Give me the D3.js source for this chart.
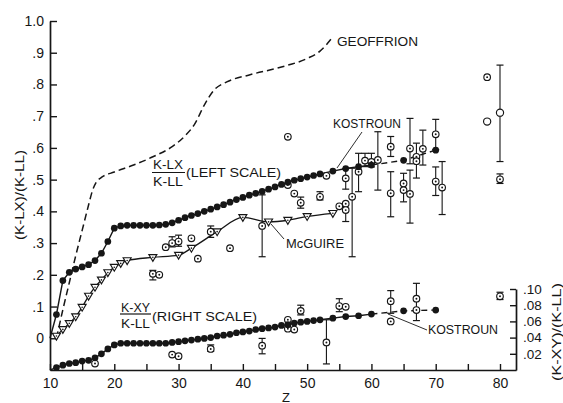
<!DOCTYPE html>
<html><head><meta charset="utf-8">
<script src="https://cdn.jsdelivr.net/npm/d3@7"></script>
<style>html,body{margin:0;padding:0;background:#fff}svg{display:block}</style>
</head><body>
<svg id="chart" width="563" height="403"></svg>
<script>
// ---- Kostroun calculation, K-LX/K-LL (left scale) ----
const kostLXZ = [10, 11, 12, 13, 14, 15, 16, 17, 18, 19, 20, 21, 22, 23, 24, 25, 26, 27, 28, 29, 30,
  31, 32, 33, 34, 35, 36, 37, 38, 39, 40, 41, 42, 43, 44, 45, 46, 47, 48, 49, 50, 51, 52, 54, 56, 58, 60, 65, 70];
const kostLXV = [0.0, 0.075, 0.182, 0.208, 0.218, 0.225, 0.232, 0.245, 0.268, 0.305, 0.347, 0.354, 0.356, 0.356, 0.356, 0.356, 0.356, 0.357, 0.359, 0.364, 0.372,
  0.380, 0.387, 0.393, 0.400, 0.407, 0.414, 0.421, 0.429, 0.437, 0.444, 0.451, 0.457, 0.463, 0.470, 0.477, 0.485, 0.492, 0.498, 0.503, 0.508, 0.513, 0.518, 0.527, 0.535, 0.541, 0.546, 0.561, 0.593];

// ---- Kostroun calculation, K-XY/K-LL (right scale) ----
const kostXYZ = [10, 11, 12, 13, 14, 15, 16, 17, 18, 19, 20, 21, 22, 23, 24, 25, 26, 27, 28, 29, 30,
  31, 32, 33, 34, 35, 36, 37, 38, 39, 40, 41, 42, 43, 44, 45, 46, 47, 48, 49, 50, 51, 52, 54, 56, 58, 60, 65, 70];
const kostXYV = [0.0, 0.003, 0.006, 0.008, 0.009, 0.011, 0.012, 0.015, 0.020, 0.026, 0.031, 0.033, 0.033, 0.033, 0.033, 0.033, 0.033, 0.033, 0.033, 0.034, 0.035,
  0.036, 0.037, 0.038, 0.039, 0.040, 0.042, 0.043, 0.044, 0.046, 0.047, 0.048, 0.050, 0.051, 0.052, 0.053, 0.055, 0.056, 0.058, 0.059, 0.060, 0.061, 0.062, 0.064, 0.066, 0.067, 0.069, 0.073, 0.074];

// ---- McGuire calculation, K-LX/K-LL ----
const mcguireZ = [11, 12, 13, 14, 15, 16, 17, 18, 19, 20, 21, 22, 26, 30, 32, 36, 40, 44, 47, 50, 54];
const mcguireV = [0.007, 0.028, 0.047, 0.068, 0.098, 0.133, 0.161, 0.184, 0.207, 0.224, 0.236, 0.245, 0.255, 0.262, 0.284, 0.336, 0.381, 0.367, 0.372, 0.384, 0.394];

// ---- Geoffrion curve, K-LX/K-LL ----
const geoffrionZ = [11, 12, 13, 14, 15, 16, 16.6, 17.2, 18, 20, 23, 26, 29, 31, 32.5, 34, 35.5, 37.5, 41, 46, 50, 52, 54];
const geoffrionV = [0.0, 0.09, 0.175, 0.26, 0.34, 0.42, 0.465, 0.492, 0.507, 0.524, 0.546, 0.572, 0.604, 0.638, 0.675, 0.735, 0.782, 0.808, 0.83, 0.855, 0.882, 0.905, 0.95];

// ---- Measurements, K-LX/K-LL (left scale); null = no error bar ----
const expLXZ  = [26, 27, 28, 29, 30, 32, 33, 35, 38, 43, 47, 47, 48, 49, 52, 53, 55, 56, 56, 56, 57, 58, 59, 60, 61,
  63, 63, 65, 65, 66, 66, 67, 67, 68, 70, 70, 71, 78, 80];
const expLXV  = [0.203, 0.200, 0.287, 0.300, 0.305, 0.315, 0.251, 0.336, 0.284, 0.354, 0.635, 0.483, 0.456, 0.427, 0.446, 0.512, 0.416, 0.424, 0.404, 0.504, 0.446, 0.525, 0.560, 0.556, 0.562,
  0.604, 0.457, 0.488, 0.467, 0.598, 0.455, 0.572, 0.558, 0.597, 0.643, 0.494, 0.475, 0.823, 0.501];
const expLXLo = [0.184, null, null, 0.288, 0.290, null, null, 0.318, null, 0.257, null, null, null, 0.410, 0.436, null, null, null, 0.368, 0.470, 0.257, 0.462, 0.541, 0.540, 0.467,
  0.573, 0.383, 0.430, null, 0.550, 0.363, 0.505, null, 0.546, 0.595, 0.450, 0.390, null, 0.488];
const expLXHi = [0.214, null, null, 0.320, 0.325, null, null, 0.354, null, 0.452, null, null, null, 0.445, 0.462, null, null, null, 0.410, 0.535, 0.536, 0.583, 0.583, 0.583, 0.651,
  0.636, 0.525, 0.520, null, 0.693, 0.530, 0.615, null, 0.656, 0.690, 0.540, 0.557, null, 0.518];
// rings without a centre dot
const plainLXZ  = [78, 80];
const plainLXV  = [0.683, 0.711];
const plainLXLo = [null, 0.557];
const plainLXHi = [null, 0.861];

// ---- Measurements, K-XY/K-LL (right scale) ----
const expXYZ  = [17, 29, 30, 35, 43, 47, 47, 48, 49, 53, 55, 56, 63, 63, 67, 67, 80];
const expXYV  = [0.008, 0.019, 0.017, 0.026, 0.030, 0.062, 0.051, 0.050, 0.073, 0.034, 0.079, 0.078, 0.085, 0.060, 0.088, 0.074, 0.091];
const expXYLo = [null, null, null, 0.023, 0.020, null, null, null, 0.068, 0.0075, 0.072, null, 0.070, null, null, 0.061, 0.087];
const expXYHi = [null, null, null, 0.031, 0.039, null, null, null, 0.080, 0.062, 0.088, null, 0.098, null, null, 0.107, 0.096];

// ---- Axis ticks ----
const zTicks = [10, 15, 20, 25, 30, 35, 40, 45, 50, 55, 60, 65, 70, 75, 80];
const zTickLabels = ["10", "", "20", "", "30", "", "40", "", "50", "", "60", "", "70", "", "80"];
const leftTicks = [0, 0.1, 0.2, 0.3, 0.4, 0.5, 0.6, 0.7, 0.8, 0.9, 1.0];
const leftTickLabels = ["0", ".1", ".2", ".3", ".4", ".5", ".6", ".7", ".8", ".9", "1.0"];
const rightTicks = [0.02, 0.04, 0.06, 0.08, 0.10];
const rightTickLabels = [".02", ".04", ".06", ".08", ".10"];

const FONT = "'Liberation Sans', Arial, Helvetica, sans-serif";
const INK = "#161616";
const svg = d3.select("#chart");
svg.append("rect").attr("width", 563).attr("height", 403).attr("fill", "#fff");

const x = d3.scaleLinear().domain([10, 82.5]).range([50, 516.07]);
const yL = d3.scaleLinear().domain([-0.1, 1.0]).range([370, 21]);
const yR = d3.scaleLinear().domain([0, 0.1]).range([370, 289]);

function styleAxis(g, size) {
  g.select(".domain").attr("stroke", INK).attr("stroke-width", 1.7);
  g.selectAll(".tick line").attr("stroke", INK).attr("stroke-width", 1.4);
  g.selectAll(".tick text").attr("fill", INK).style("font-family", FONT).style("font-size", size + "px");
}

// axes
svg.append("g").attr("transform", "translate(0,370)")
  .call(d3.axisBottom(x).tickValues(zTicks).tickFormat((d, i) => zTickLabels[i])
    .tickSizeInner(-6).tickSizeOuter(0).tickPadding(8))
  .call(g => styleAxis(g, 14));
svg.append("g").attr("transform", "translate(50,0)")
  .call(d3.axisLeft(yL).tickValues(leftTicks).tickFormat((d, i) => leftTickLabels[i])
    .tickSizeInner(-7).tickSizeOuter(0).tickPadding(6))
  .call(g => styleAxis(g, 14));
svg.append("g").attr("transform", "translate(516,0)")
  .call(d3.axisRight(yR).tickValues(rightTicks).tickFormat((d, i) => rightTickLabels[i])
    .tickSizeInner(-6).tickSizeOuter(0).tickPadding(7))
  .call(g => styleAxis(g, 13.5));

// axis titles
svg.append("text").attr("transform", "translate(19,195) rotate(-90)")
  .attr("text-anchor", "middle").attr("dominant-baseline", "central")
  .attr("textLength", 90).attr("lengthAdjust", "spacingAndGlyphs")
  .style("font-family", FONT).style("font-size", "13.5px").attr("fill", INK).text("(K-LX)/(K-LL)");
svg.append("text").attr("transform", "translate(556,332) rotate(-90)")
  .attr("text-anchor", "middle").attr("dominant-baseline", "central")
  .attr("textLength", 98).attr("lengthAdjust", "spacingAndGlyphs")
  .style("font-family", FONT).style("font-size", "13.5px").attr("fill", INK).text("(K-XY)/(K-LL)");
svg.append("text").attr("x", 286).attr("y", 401.5).attr("text-anchor", "middle")
  .style("font-family", FONT).style("font-size", "13px").attr("fill", INK).text("Z");

// curves
const zip = (zs, vs) => zs.map((z, i) => [z, vs[i]]);
const lineL = d3.line().x(d => x(d[0])).y(d => yL(d[1]));
const lineR = d3.line().x(d => x(d[0])).y(d => yR(d[1]));
const smoothL = d3.line().x(d => x(d[0])).y(d => yL(d[1])).curve(d3.curveMonotoneX);

svg.append("path").datum(zip(geoffrionZ, geoffrionV)).attr("d", smoothL)
  .attr("fill", "none").attr("stroke", INK).attr("stroke-width", 1.5).attr("stroke-dasharray", "7,4");
svg.append("path").datum(zip(mcguireZ, mcguireV)).attr("d", smoothL)
  .attr("fill", "none").attr("stroke", INK).attr("stroke-width", 1.3);

function kostrounLine(zs, vs, gen) {
  const pts = zip(zs, vs);
  svg.append("path").datum(pts.filter(d => d[0] <= 60)).attr("d", gen)
    .attr("fill", "none").attr("stroke", INK).attr("stroke-width", 1.4);
  svg.append("path").datum(pts.filter(d => d[0] >= 60)).attr("d", gen)
    .attr("fill", "none").attr("stroke", INK).attr("stroke-width", 1.4).attr("stroke-dasharray", "6,4");
}
kostrounLine(kostLXZ, kostLXV, lineL);
kostrounLine(kostXYZ, kostXYV, lineR);

// measurements: error bars, then rings (with or without a centre dot)
function measurements(zs, vs, lo, hi, y, dotted) {
  const g = svg.append("g").attr("stroke", INK);
  zs.forEach((z, i) => {
    if (lo[i] == null) return;
    const cx = x(z);
    g.append("line").attr("x1", cx).attr("x2", cx).attr("y1", y(lo[i])).attr("y2", y(hi[i])).attr("stroke-width", 1.1);
    [lo[i], hi[i]].forEach(v => g.append("line").attr("x1", cx - 3.5).attr("x2", cx + 3.5)
      .attr("y1", y(v)).attr("y2", y(v)).attr("stroke-width", 1.2));
  });
  zs.forEach((z, i) => {
    g.append("circle").attr("cx", x(z)).attr("cy", y(vs[i])).attr("r", dotted ? 3.3 : 3.6)
      .attr("fill", "#fff").attr("stroke-width", 1.15);
    if (dotted) g.append("circle").attr("cx", x(z)).attr("cy", y(vs[i])).attr("r", 0.95).attr("fill", INK).attr("stroke", "none");
  });
}
measurements(expLXZ, expLXV, expLXLo, expLXHi, yL, true);
measurements(plainLXZ, plainLXV, plainLXLo, plainLXHi, yL, false);
measurements(expXYZ, expXYV, expXYLo, expXYHi, yR, true);

// McGuire triangles
svg.append("g").selectAll("g").data(zip(mcguireZ, mcguireV)).join("g")
  .attr("transform", d => `translate(${x(d[0])},${yL(d[1])})`)
  .call(g => {
    g.append("path").attr("d", "M-4,-2.8L4,-2.8L0,4Z").attr("fill", "#fff").attr("stroke", INK).attr("stroke-width", 1.15);
    g.append("circle").attr("r", 0.8).attr("fill", INK);
  });

// Kostroun filled circles (line start at Z=10 carries no marker)
svg.append("g").selectAll("circle").data(zip(kostLXZ, kostLXV).filter(d => d[0] > 10)).join("circle")
  .attr("cx", d => x(d[0])).attr("cy", d => yL(d[1])).attr("r", 3.35).attr("fill", INK);
svg.append("g").selectAll("circle").data(zip(kostXYZ, kostXYV).filter(d => d[0] > 10)).join("circle")
  .attr("cx", d => x(d[0])).attr("cy", d => yR(d[1])).attr("r", 3.35).attr("fill", INK);

// annotations
function label(txt, xx, yy, len, size) {
  svg.append("text").attr("x", xx).attr("y", yy).attr("textLength", len).attr("lengthAdjust", "spacingAndGlyphs")
    .style("font-family", FONT).style("font-size", (size || 13.5) + "px").attr("fill", INK).text(txt);
}
function leader(x1, y1, x2, y2) {
  svg.append("line").attr("x1", x1).attr("y1", y1).attr("x2", x2).attr("y2", y2)
    .attr("stroke", INK).attr("stroke-width", 0.9);
}
label("GEOFFRION", 337, 45.5, 81);
label("KOSTROUN", 333, 127.5, 68);
leader(362, 132, 337, 168);
label("KOSTROUN", 428, 333.5, 70);
leader(388, 314, 427, 330);
label("McGUIRE", 286, 247.5, 58);
leader(271, 224, 284, 239);

label("K-LX", 153, 169, 30, 12.5);
svg.append("line").attr("x1", 152).attr("x2", 185).attr("y1", 172.5).attr("y2", 172.5).attr("stroke", INK).attr("stroke-width", 1.2);
label("K-LL", 153, 186, 30, 12.5);
label("(LEFT SCALE)", 186, 177, 95);

label("K-XY", 121, 311.5, 29, 12.5);
svg.append("line").attr("x1", 120).attr("x2", 151).attr("y1", 314).attr("y2", 314).attr("stroke", INK).attr("stroke-width", 1.2);
label("K-LL", 121, 328, 29, 12.5);
label("(RIGHT SCALE)", 152, 320.5, 105);
</script>
</body></html>
